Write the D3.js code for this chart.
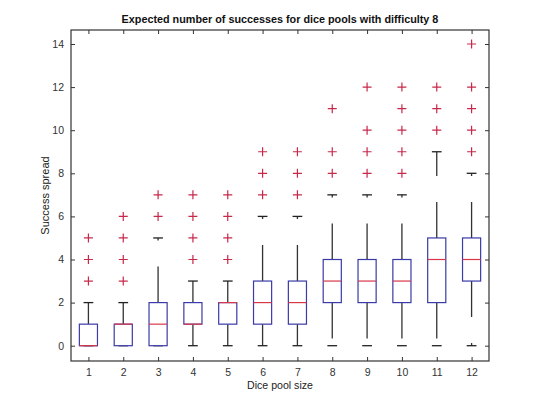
<!DOCTYPE html>
<html>
<head>
<meta charset="utf-8">
<script src="https://cdn.jsdelivr.net/npm/d3@7"></script>
<style>
  body { margin: 0; background: #fff; }
  text { font-family: "Liberation Sans", Arial, sans-serif; fill: #222; }
</style>
</head>
<body>
<script>
// pool sizes and box statistics
let poolSizes = [1, 2, 3, 4, 5, 6, 7, 8, 9, 10, 11, 12];
let q1Values = [0, 0, 0, 1, 1, 1, 1, 2, 2, 2, 2, 3];
let medianValues = [0, 1, 1, 1, 2, 2, 2, 3, 3, 3, 4, 4];
let q3Values = [1, 1, 2, 2, 2, 3, 3, 4, 4, 4, 5, 5];
let lowerWhiskers = [0, 0, 0, 0, 0, 0, 0, 0, 0, 0, 0, 0];
let upperWhiskers = [2, 2, 5, 3, 3, 6, 6, 7, 7, 7, 9, 8];
let outlierValues = [
    [3, 4, 5],
    [3, 4, 5, 6],
    [6, 7],
    [4, 5, 6, 7],
    [4, 5, 6, 7],
    [7, 8, 9],
    [7, 8, 9],
    [8, 9, 11],
    [8, 9, 10, 12],
    [8, 9, 10, 11, 12],
    [10, 11, 12],
    [9, 10, 11, 12, 14]
];
let yTicks = [0, 2, 4, 6, 8, 10, 12, 14];

let svgContainer,
    svgWidth = 540,
    svgHeight = 405,
    plot = {
        left: 71,
        right: 489,
        top: 30,
        bottom: 361
    },
    boxWidth = 0.52,
    capWidth = 0.28,
    tickLen = 4;

let xScale = d3.scaleLinear().domain([0.5, 12.5]).range([plot.left, plot.right]);
let yScale = d3.scaleLinear().domain([-0.71, 14.65]).range([plot.bottom, plot.top]);

function init() {
    svgContainer = d3.select("body").append("svg")
        .attr("width", svgWidth)
        .attr("height", svgHeight);

    drawAxes();
    drawBoxes();
    drawLabels();
}

function drawAxes() {
    let xAxis = d3.axisBottom(xScale).tickValues(poolSizes).tickFormat(d3.format("d"))
        .tickSizeInner(-tickLen).tickSizeOuter(0).tickPadding(8);
    let yAxis = d3.axisLeft(yScale).tickValues(yTicks)
        .tickSizeInner(-tickLen).tickSizeOuter(0).tickPadding(7);
    let xTop = d3.axisTop(xScale).tickValues(poolSizes).tickFormat("")
        .tickSizeInner(-tickLen).tickSizeOuter(0);
    let yRight = d3.axisRight(yScale).tickValues(yTicks).tickFormat("")
        .tickSizeInner(-tickLen).tickSizeOuter(0);

    let groups = [
        [xAxis, 'translate(0,' + plot.bottom + ')'],
        [yAxis, 'translate(' + plot.left + ',0)'],
        [xTop, 'translate(0,' + plot.top + ')'],
        [yRight, 'translate(' + plot.right + ',0)']
    ];
    groups.forEach(g => {
        let axisG = svgContainer.append("g")
            .attr('class', 'axis')
            .attr('transform', g[1])
            .call(g[0]);
        axisG.select(".domain").remove();
        axisG.selectAll("line").attr("stroke", "#333").attr("stroke-width", 1);
        axisG.selectAll("text").style("font-size", "10.5px").style("fill", "#333")
            .style("font-family", "'Liberation Sans', Arial, sans-serif");
    });

    svgContainer.append("rect")
        .attr("x", plot.left)
        .attr("y", plot.top)
        .attr("width", plot.right - plot.left)
        .attr("height", plot.bottom - plot.top)
        .attr("fill", "none")
        .attr("stroke", "#333")
        .attr("stroke-width", 1.2);
}

function drawBoxes() {
    let bw = xScale(1 + boxWidth / 2) - xScale(1);
    let cw = xScale(1 + capWidth / 2) - xScale(1);

    poolSizes.forEach((p, i) => {
        let cx = xScale(p);
        let g = svgContainer.append("g");

        // whiskers, dashed like the matlab default
        g.append("line")
            .attr("x1", cx).attr("x2", cx)
            .attr("y1", yScale(q3Values[i])).attr("y2", yScale(upperWhiskers[i]))
            .attr("stroke", "#333").attr("stroke-width", 1.3)
            .attr("stroke-dasharray", "36,26");
        g.append("line")
            .attr("x1", cx).attr("x2", cx)
            .attr("y1", yScale(q1Values[i])).attr("y2", yScale(lowerWhiskers[i]))
            .attr("stroke", "#333").attr("stroke-width", 1.3)
            .attr("stroke-dasharray", "36,26");

        // caps
        [upperWhiskers[i], lowerWhiskers[i]].forEach(v => {
            g.append("line")
                .attr("x1", cx - cw).attr("x2", cx + cw)
                .attr("y1", yScale(v)).attr("y2", yScale(v))
                .attr("stroke", "#222").attr("stroke-width", 1.3);
        });

        g.append("rect")
            .attr("x", cx - bw)
            .attr("y", yScale(q3Values[i]))
            .attr("width", 2 * bw)
            .attr("height", yScale(q1Values[i]) - yScale(q3Values[i]))
            .attr("fill", "#fff")
            .attr("stroke", "#3a3aa8")
            .attr("stroke-width", 1.2);

        g.append("line")
            .attr("x1", cx - bw).attr("x2", cx + bw)
            .attr("y1", yScale(medianValues[i])).attr("y2", yScale(medianValues[i]))
            .attr("stroke", "#d8384a").attr("stroke-width", 1.2);

        outlierValues[i].forEach(v => {
            let y = yScale(v);
            g.append("path")
                .attr("d", "M" + (cx - 4.5) + "," + y + "H" + (cx + 4.5) + "M" + cx + "," + (y - 4.5) + "V" + (y + 4.5))
                .attr("stroke", "#c8284a").attr("stroke-width", 1.2)
                .attr("fill", "none");
        });
    });
}

function drawLabels() {
    let midX = (plot.left + plot.right) / 2;
    svgContainer.append("text")
        .attr("x", midX).attr("y", 23)
        .attr("text-anchor", "middle")
        .style("font-size", "10.8px").style("font-weight", "bold").style("fill", "#111")
        .text("Expected number of successes for dice pools with difficulty 8");

    svgContainer.append("text")
        .attr("x", midX).attr("y", 389)
        .attr("text-anchor", "middle")
        .style("font-size", "10.6px").style("fill", "#222")
        .text("Dice pool size");

    svgContainer.append("text")
        .attr("transform", "translate(49," + ((plot.top + plot.bottom) / 2) + ") rotate(-90)")
        .attr("text-anchor", "middle")
        .style("font-size", "11px").style("fill", "#222")
        .text("Success spread");
}

init();
</script>
</body>
</html>
